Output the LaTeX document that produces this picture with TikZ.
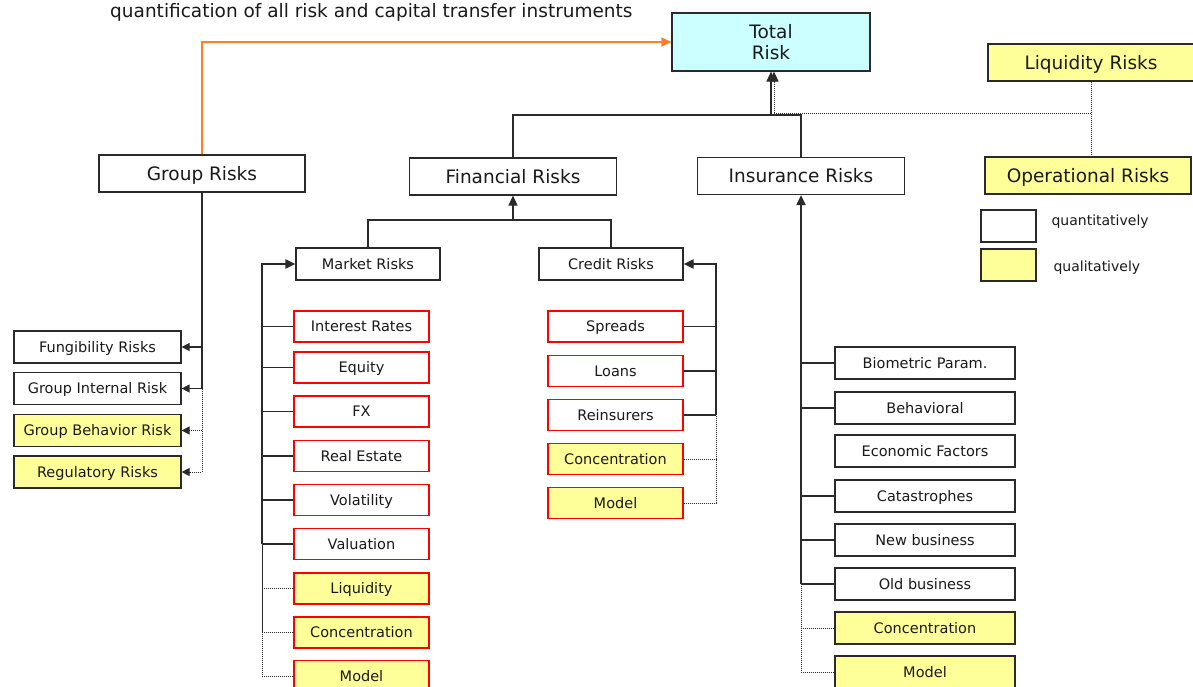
\documentclass[tikz,border=0pt]{standalone}
\usepackage{fontspec}
\setmainfont{DejaVu Sans}
\usetikzlibrary{arrows.meta}
\definecolor{qualfill}{HTML}{FFFF99}
\definecolor{totalfill}{HTML}{CCFFFF}
\definecolor{linkorange}{HTML}{FF7F27}
\definecolor{boxline}{HTML}{2A2A2A}
\definecolor{txt}{HTML}{1A1A1A}

\tikzset{
  base/.style={draw=boxline, line width=1.2pt, inner sep=0pt, text=txt, anchor=center},
  quant/.style={fill=white},
  qual/.style={fill=qualfill},
  bigfont/.style={font=\fontsize{18.5}{21}\selectfont},
  bigbox/.style={base, bigfont, minimum width=206pt, minimum height=37pt, text height=13.5pt, text depth=0pt},
  smallfont/.style={font=\fontsize{14.5}{17}\selectfont, text height=10.6pt, text depth=0pt},
  subbox/.style={base, smallfont, fill=white, minimum width=144pt, minimum height=32pt},
  grpbox/.style={base, smallfont, minimum width=167pt, minimum height=32pt},
  redbox/.style={base, smallfont, draw=red, line width=1.3pt, minimum width=135pt, minimum height=31pt},
  insbox/.style={base, smallfont, minimum width=180pt, minimum height=32pt},
  legbox/.style={base, minimum width=55pt, minimum height=32pt},
  legtext/.style={anchor=west, text=txt, font=\fontsize{14}{17}\selectfont},
  link/.style={draw=boxline, line width=1.3pt},
  spine/.style={draw=boxline, line width=1.9pt},
  dotlink/.style={draw=boxline, line width=1pt, dash pattern=on 1pt off 1pt},
  tip/.style={-{Triangle[length=10pt,width=9pt]}},
  smalltip/.style={-{Triangle[length=8pt,width=8pt]}},
}

\begin{document}
\begin{tikzpicture}[x=1pt, y=-1pt]
\useasboundingbox[fill=white] (0,0) rectangle (1193,687);

% heading
\node[anchor=west, text=txt, bigfont, inner sep=0pt] (title) at (110,12)
  {quantification of all risk and capital transfer instruments};

% top level
\node[base, bigfont, fill=totalfill, minimum width=198pt, minimum height=58pt, align=center] (total) at (771,42) {Total\\Risk};
\node[bigbox, qual, minimum width=206pt] (liq) at (1091,62.5) {Liquidity Risks};
\node[bigbox, qual] (oper) at (1088,175.5) {Operational Risks};
\node[bigbox, quant] (group) at (202,173.5) {Group Risks};
\node[bigbox, quant, minimum width=207pt] (fin) at (513,176.5) {Financial Risks};
\node[bigbox, quant, minimum width=207pt] (ins) at (801,176) {Insurance Risks};

% legend
\node[legbox, quant] (legq) at (1008.5,226) {};
\node[legbox, qual] (legl) at (1008.5,265) {};
\node[legtext] (legqt) at (1048,222) {quantitatively};
\node[legtext] (leglt) at (1050,268) {qualitatively};

% group risks
\node[grpbox, quant] (fung) at (97.5,347) {Fungibility Risks};
\node[grpbox, quant] (gint) at (97.5,388.5) {Group Internal Risk};
\node[grpbox, qual] (gbeh) at (97.5,430.5) {Group Behavior Risk};
\node[grpbox, qual] (greg) at (97.5,472) {Regulatory Risks};

% financial risks
\node[subbox] (mkt) at (368,264) {Market Risks};
\node[subbox] (cred) at (611,264) {Credit Risks};

\node[redbox, quant] (mir) at (361.5,326.5) {Interest Rates};
\node[redbox, quant] (meq) at (361.5,367.5) {Equity};
\node[redbox, quant] (mfx) at (361.5,411.5) {FX};
\node[redbox, quant] (mre) at (361.5,456) {Real Estate};
\node[redbox, quant] (mvol) at (361.5,500) {Volatility};
\node[redbox, quant] (mval) at (361.5,544) {Valuation};
\node[redbox, qual] (mliq) at (361.5,588.5) {Liquidity};
\node[redbox, qual] (mcon) at (361.5,632.5) {Concentration};
\node[redbox, qual] (mmod) at (361.5,676) {Model};

\node[redbox, quant] (csp) at (615.5,326.5) {Spreads};
\node[redbox, quant] (clo) at (615.5,371) {Loans};
\node[redbox, quant] (crei) at (615.5,415) {Reinsurers};
\node[redbox, qual] (ccon) at (615.5,459) {Concentration};
\node[redbox, qual] (cmod) at (615.5,503) {Model};

% insurance risks
\node[insbox, quant] (ibio) at (925,363) {Biometric Param.};
\node[insbox, quant] (ibeh) at (925,408) {Behavioral};
\node[insbox, quant] (ieco) at (925,451) {Economic Factors};
\node[insbox, quant] (icat) at (925,496) {Catastrophes};
\node[insbox, quant] (inew) at (925,540) {New business};
\node[insbox, quant] (iold) at (925,584) {Old business};
\node[insbox, qual] (icon) at (925,628) {Concentration};
\node[insbox, qual] (imod) at (925,672) {Model};

% junction points
\coordinate (topj) at (771,115);
\coordinate (dotj) at (774,114);
\coordinate (finj) at (513,220);
\coordinate (mspine) at (262,300);
\coordinate (cspine) at (716,300);
\coordinate (ispine) at (801,300);

% into total risk
\draw[link] (fin.north) |- (topj) -| (ins.north);
\draw[link, tip] (topj) -- (total.south);
\draw[dotlink] (liq.south) -- (liq.south |- oper.north);
\draw[dotlink, tip] (liq.south |- dotj) -| (total.south -| dotj);
\draw[linkorange, line width=1.3pt, tip] (group.north) |- (total.west);

% group risks
\draw[dotlink, smalltip] (group.south) |- (gbeh.east);
\draw[dotlink, smalltip] (group.south) |- (greg.east);
\draw[link, smalltip] (group.south) |- (fung.east);
\draw[link, smalltip] (group.south) |- (gint.east);

% financial risks
\draw[link] (mkt.north) |- (finj) -| (cred.north);
\draw[link, tip] (finj) -- (fin.south);

\draw[dotlink] (mliq.west) -| (mspine);
\draw[dotlink] (mcon.west) -| (mspine);
\draw[dotlink] (mmod.west) -| (mspine);
\draw[spine, tip] (mval.west -| mspine) -- (mspine) |- (mkt.west);
\foreach \c in {mir,meq,mfx,mre,mvol,mval}
  \draw[link] (\c.west) -- (\c.west -| mspine);

\draw[dotlink] (ccon.east) -| (cspine);
\draw[dotlink] (cmod.east) -| (cspine);
\draw[spine, tip] (crei.east -| cspine) -- (cspine) |- (cred.east);
\foreach \c in {csp,clo,crei}
  \draw[link] (\c.east) -- (\c.east -| cspine);

% insurance risks
\draw[dotlink] (icon.west) -| (ispine);
\draw[dotlink] (imod.west) -| (ispine);
\draw[spine, tip] (iold.west -| ispine) -- (ins.south);
\foreach \c in {ibio,ibeh,icat,inew,iold}
  \draw[link] (\c.west) -- (\c.west -| ispine);
\end{tikzpicture}
\end{document}
